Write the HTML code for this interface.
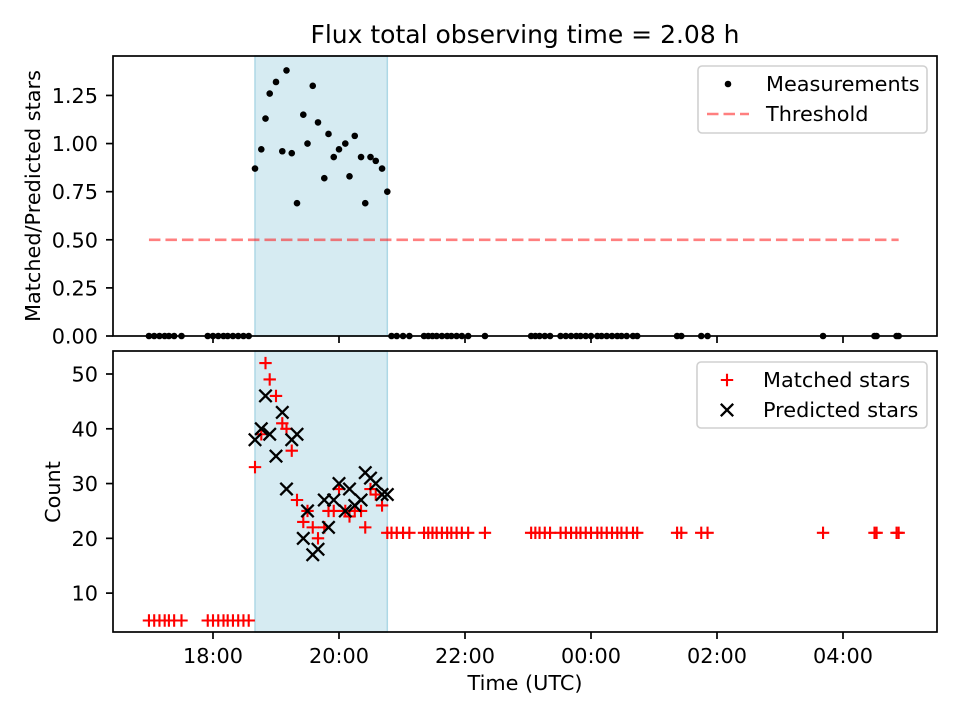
<!DOCTYPE html>
<html><head><meta charset="utf-8"><style>
body{margin:0;background:#fff}
svg{display:block;font-family:"DejaVu Sans","Liberation Sans",sans-serif}
</style></head><body>
<svg id="c" width="960" height="720" viewBox="0 0 960 720"></svg>
<script>
// minutes after 18:00
const shadeStart = 40, shadeEnd = 166;
const inMin = [40,46,50,54,60,66,70,75,80,86,90,95,100,106,110,115,120,126,130,135,141,145,150,155,161,166];
const inRatio = [0.87,0.97,1.13,1.26,1.32,0.96,1.38,0.95,0.69,1.15,1.00,1.30,1.11,0.82,1.05,0.93,0.97,1.00,0.83,1.04,0.93,0.69,0.93,0.91,0.87,0.75];
const inMatched = [33,39,52,49,46,41,40,36,27,23,25,22,20,22,25,25,29,25,24,25,25,22,29,28,26,21];
const inPredicted = [38,40,46,39,35,43,29,38,39,20,25,17,18,27,22,27,30,25,29,26,27,32,31,30,28,28];
const earlyMin = [-61,-56,-51,-46,-42,-37,-30,-5,0,5,10,14,19,24,29,34];
const earlyMatched = 5;
const lateMin = [170,175,181,187,201,205,209,213,218,223,227,232,237,243,259,303,307,311,316,321,331,336,341,346,350,355,360,366,370,375,380,385,389,394,400,404,442,446,465,471,581,630,632,651,653];
const lateMatched = 21;
const threshold = 0.5, thrStart = -61, thrEnd = 653;
const xTicks = [0,120,240,360,480,600];
const xTickLabels = ["18:00","20:00","22:00","00:00","02:00","04:00"];
const topTicks = [0,0.25,0.5,0.75,1.0,1.25];
const botTicks = [10,20,30,40,50];

const NS="http://www.w3.org/2000/svg", svg=document.getElementById('c');
const L=113,R=937;
const X=m=>213+(m/60)*63;
const T={t:56,b:336,min:0,max:1.455}, B={t:351,b:632,min:2.9,max:54.2};
const Y=(a,v)=>a.b-(v-a.min)/(a.max-a.min)*(a.b-a.t);
function el(tag,at,p){const e=document.createElementNS(NS,tag);for(const k in at)e.setAttribute(k,at[k]);(p||svg).appendChild(e);return e;}
function txt(s,at){const e=el('text',at);e.textContent=s;return e;}
const FS=20.8, MS=6.2;

[T,B].forEach((a,i)=>{
  const s=el('rect',{x:X(shadeStart),y:a.t,width:X(shadeEnd)-X(shadeStart),height:a.b-a.t,fill:'#add8e6','fill-opacity':0.5,stroke:'#add8e6','stroke-width':1.5});
  
  
});
const th=el('line',{x1:X(thrStart),x2:X(thrEnd),y1:Y(T,threshold),y2:Y(T,threshold),stroke:'#ff0000','stroke-opacity':0.5,'stroke-width':2.6,'stroke-dasharray':'11.5,5'});


const zeros=earlyMin.concat(lateMin);
zeros.forEach(m=>{const c=el('circle',{cx:X(m),cy:Y(T,0),r:3.3,fill:'#000'});

});
inMin.forEach((m,i)=>{const c=el('circle',{cx:X(m),cy:Y(T,inRatio[i]),r:3.3,fill:'#000'});

});
function plus(x,y){const g=el('path',{d:`M${x-MS} ${y}H${x+MS}M${x} ${y-MS}V${y+MS}`,stroke:'#f00','stroke-width':2.1});

}
function cross(x,y){const g=el('path',{d:`M${x-MS} ${y-MS}L${x+MS} ${y+MS}M${x-MS} ${y+MS}L${x+MS} ${y-MS}`,stroke:'#000','stroke-width':2.3});

}
earlyMin.forEach(m=>plus(X(m),Y(B,earlyMatched)));
lateMin.forEach(m=>plus(X(m),Y(B,lateMatched)));
inMin.forEach((m,i)=>plus(X(m),Y(B,inMatched[i])));
inMin.forEach((m,i)=>cross(X(m),Y(B,inPredicted[i])));
[T,B].forEach((a,i)=>{const r=el('rect',{x:L,y:a.t,width:R-L,height:a.b-a.t,fill:'none',stroke:'#000','stroke-width':1.7});

});
xTicks.forEach((m,i)=>{
  el('line',{x1:X(m),x2:X(m),y1:T.b,y2:T.b+7,stroke:'#000','stroke-width':1.7});
  el('line',{x1:X(m),x2:X(m),y1:B.b,y2:B.b+7,stroke:'#000','stroke-width':1.7});
  const t=txt(xTickLabels[i],{x:X(m),y:663,'font-size':FS,'text-anchor':'middle'});
  
  
});
topTicks.forEach(v=>{el('line',{x1:L-7,x2:L,y1:Y(T,v),y2:Y(T,v),stroke:'#000','stroke-width':1.7});
  const t=txt(v.toFixed(2),{x:98,y:Y(T,v)+7.5,'font-size':FS,'text-anchor':'end'});
  
  });
botTicks.forEach(v=>{el('line',{x1:L-7,x2:L,y1:Y(B,v),y2:Y(B,v),stroke:'#000','stroke-width':1.7});
  const t=txt(String(v),{x:98,y:Y(B,v)+7.5,'font-size':FS,'text-anchor':'end'});
  
  });
</script>
<svg width="960" height="720" style="position:absolute;left:0;top:0;font-family:'DejaVu Sans','Liberation Sans',sans-serif">
<text x="525" y="43" font-size="25" text-anchor="middle">Flux total observing time = 2.08 h</text>
<text x="525" y="690" font-size="20.8" text-anchor="middle">Time (UTC)</text>
<text transform="translate(40,196) rotate(-90)" font-size="20.8" text-anchor="middle">Matched/Predicted stars</text>
<text transform="translate(60,492) rotate(-90)" font-size="20.8" text-anchor="middle">Count</text>
<g>
<rect x="698" y="66" width="229" height="67" rx="4" fill="#fff" fill-opacity="0.8" stroke="#d0d0d0" stroke-width="1.6"/>
<circle cx="728" cy="84" r="3.3" fill="#000"/>
<text x="766" y="91" font-size="20.8">Measurements</text>
<line x1="707" x2="749" y1="114" y2="114" stroke="#ff0000" stroke-opacity="0.5" stroke-width="2.6" stroke-dasharray="11.5,5"/>
<text x="766" y="121" font-size="20.8">Threshold</text>
</g>
<g>
<rect x="697" y="362" width="230" height="66" rx="4" fill="#fff" fill-opacity="0.8" stroke="#d0d0d0" stroke-width="1.6"/>
<path d="M720.8 380H733.2M727 373.8V386.2" stroke="#f00" stroke-width="2.1"/>
<text x="763" y="387" font-size="20.8">Matched stars</text>
<path d="M720.8 403.8L733.2 416.2M720.8 416.2L733.2 403.8" stroke="#000" stroke-width="2.3"/>
<text x="763" y="417" font-size="20.8">Predicted stars</text>
</g>
</svg>
</body></html>
